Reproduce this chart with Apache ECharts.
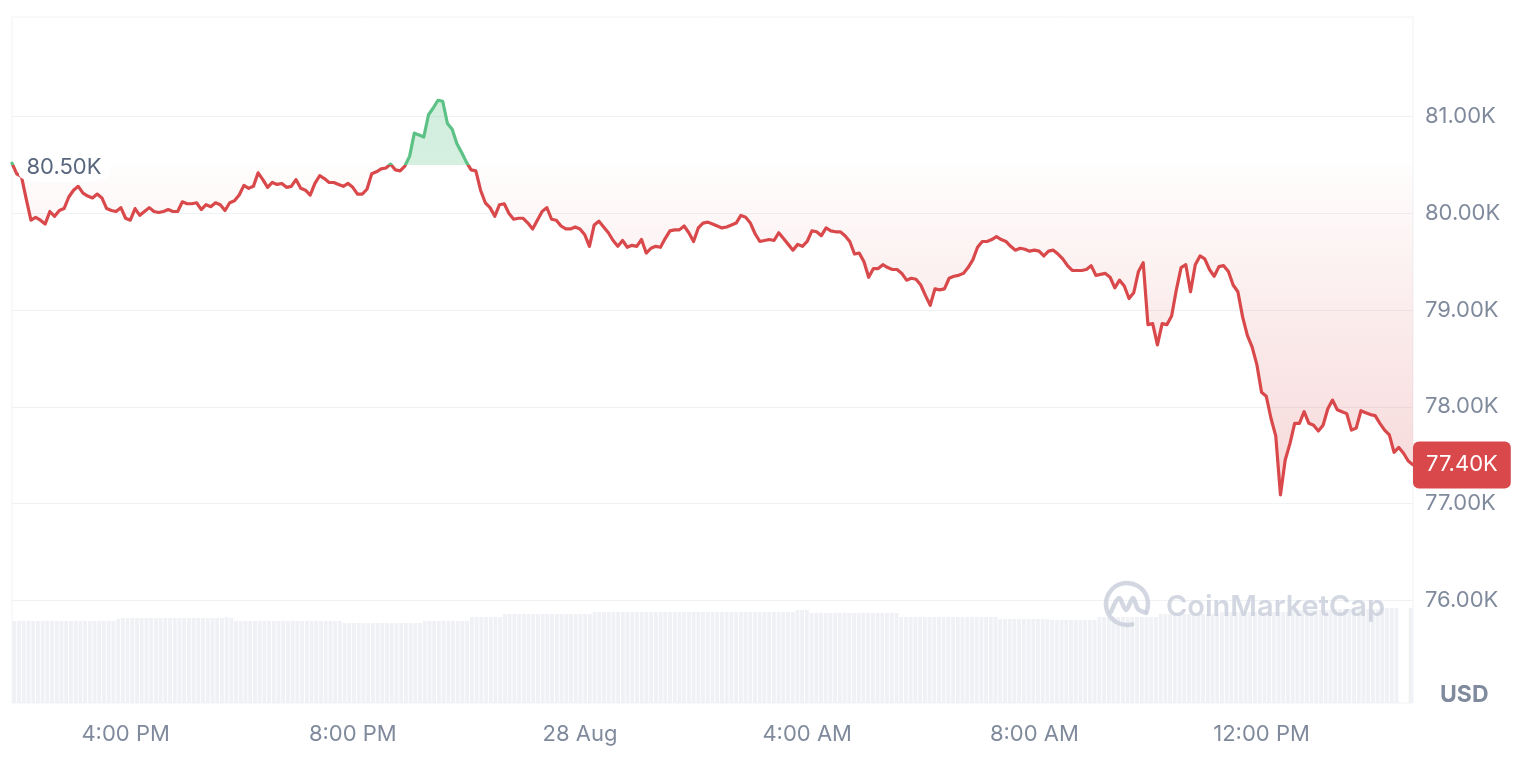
<!DOCTYPE html>
<html>
<head>
<meta charset="utf-8">
<script src="https://cdn.jsdelivr.net/npm/echarts@6/dist/echarts.min.js"></script>
<style>
html,body{margin:0;padding:0;background:#fff;}
#chart{width:1536px;height:782px;}
</style>
</head>
<body>
<div id="chart"></div>
<script>
// ---- data ----
const startHour = 14;        // 27 Aug, 2:00 PM
const stepMinutes = 5;
const baseline = 80.5;       // opening price (K USD)
const priceValues = [
80.52, 80.41, 80.38, 80.15, 79.93, 79.96, 79.93, 79.89, 80.02, 79.97,
80.03, 80.05, 80.17, 80.24, 80.28, 80.21, 80.18, 80.16, 80.20, 80.16,
80.05, 80.03, 80.02, 80.06, 79.95, 79.93, 80.05, 79.98, 80.02, 80.06,
80.02, 80.01, 80.02, 80.04, 80.02, 80.02, 80.12, 80.10, 80.10, 80.11,
80.04, 80.09, 80.07, 80.11, 80.09, 80.03, 80.11, 80.13, 80.19, 80.29,
80.26, 80.28, 80.42, 80.35, 80.27, 80.32, 80.30, 80.31, 80.27, 80.28,
80.35, 80.26, 80.24, 80.19, 80.31, 80.39, 80.36, 80.32, 80.32, 80.30,
80.28, 80.31, 80.27, 80.20, 80.20, 80.25, 80.41, 80.43, 80.46, 80.47,
80.51, 80.45, 80.44, 80.49, 80.59, 80.83, 80.81, 80.79, 81.02, 81.09,
81.17, 81.16, 80.93, 80.87, 80.72, 80.63, 80.53, 80.45, 80.44, 80.24,
80.11, 80.06, 79.97, 80.09, 80.10, 80.00, 79.94, 79.95, 79.95, 79.90,
79.84, 79.93, 80.02, 80.06, 79.94, 79.93, 79.87, 79.84, 79.84, 79.86,
79.84, 79.78, 79.66, 79.88, 79.92, 79.86, 79.80, 79.72, 79.66, 79.72,
79.65, 79.67, 79.66, 79.73, 79.59, 79.64, 79.66, 79.65, 79.74, 79.82,
79.83, 79.83, 79.87, 79.80, 79.71, 79.85, 79.90, 79.91, 79.89, 79.87,
79.85, 79.86, 79.88, 79.90, 79.98, 79.96, 79.90, 79.79, 79.71, 79.72,
79.73, 79.72, 79.80, 79.74, 79.68, 79.62, 79.68, 79.66, 79.71, 79.82,
79.81, 79.77, 79.85, 79.82, 79.81, 79.81, 79.77, 79.71, 79.58, 79.59,
79.50, 79.34, 79.43, 79.43, 79.47, 79.44, 79.42, 79.42, 79.38, 79.31,
79.33, 79.32, 79.26, 79.15, 79.05, 79.22, 79.21, 79.22, 79.33, 79.35,
79.36, 79.38, 79.44, 79.52, 79.65, 79.71, 79.71, 79.73, 79.76, 79.73,
79.71, 79.66, 79.62, 79.64, 79.63, 79.61, 79.62, 79.61, 79.56, 79.61,
79.62, 79.58, 79.53, 79.46, 79.41, 79.41, 79.41, 79.42, 79.46, 79.36,
79.37, 79.38, 79.34, 79.23, 79.31, 79.25, 79.12, 79.18, 79.40, 79.49,
78.85, 78.86, 78.64, 78.86, 78.85, 78.94, 79.21, 79.44, 79.47, 79.19,
79.47, 79.56, 79.53, 79.42, 79.35, 79.45, 79.46, 79.40, 79.26, 79.19,
78.93, 78.74, 78.62, 78.44, 78.15, 78.11, 77.88, 77.70, 77.09, 77.45,
77.62, 77.83, 77.83, 77.95, 77.83, 77.81, 77.75, 77.81, 77.98, 78.07,
77.97, 77.95, 77.93, 77.76, 77.78, 77.96, 77.94, 77.92, 77.91, 77.83,
77.76, 77.71, 77.53, 77.58, 77.52, 77.44, 77.40
];
// volume (relative units)
const volumeValues = [
82, 82, 82, 82, 82, 82, 82, 82, 82, 82,
82, 82, 82, 82, 82, 82, 82, 82, 82, 82,
82, 82, 84, 85, 85, 85, 85, 85, 85, 85,
85, 85, 85, 85, 85, 85, 85, 85, 85, 85,
85, 85, 85, 85, 85, 86, 85, 82, 82, 82,
82, 82, 82, 82, 82, 82, 82, 82, 82, 82,
82, 82, 82, 82, 82, 82, 82, 82, 82, 82,
80, 80, 80, 80, 80, 80, 80, 80, 80, 80,
80, 80, 80, 80, 80, 80, 80, 82, 82, 82,
82, 82, 82, 82, 82, 82, 82, 86, 86, 86,
86, 86, 86, 86, 89, 89, 89, 89, 89, 89,
89, 89, 89, 89, 89, 89, 89, 89, 89, 89,
89, 89, 89, 91, 91, 91, 91, 91, 91, 91,
91, 91, 91, 91, 91, 91, 91, 91, 91, 91,
91, 91, 91, 91, 91, 91, 91, 91, 91, 91,
91, 91, 91, 91, 91, 91, 91, 91, 91, 91,
91, 91, 91, 91, 91, 91, 93, 93, 93, 90,
90, 90, 90, 90, 90, 90, 90, 90, 90, 90,
90, 90, 90, 90, 90, 90, 90, 90, 86, 86,
86, 86, 86, 86, 86, 86, 86, 86, 86, 86,
86, 86, 86, 86, 86, 86, 86, 86, 86, 84,
84, 84, 84, 84, 84, 84, 84, 84, 84, 84,
83, 83, 83, 83, 83, 83, 83, 83, 83, 83,
86, 86, 86, 86, 86, 86, 86, 86, 86, 86,
86, 86, 86, 89, 89, 89, 89, 89, 89, 89,
89, 89, 89, 89, 89, 89, 91, 91, 91, 91,
91, 91, 91, 91, 91, 91, 91, 91, 91, 91,
91, 93, 93, 93, 93, 93, 93, 93, 93, 93,
94, 94, 94, 94, 94, 94, 94, 94, 94, 94,
95, 95, 95, 95, null, null, 95
];
const yTicks = [76, 77, 78, 79, 80, 81];

// ---- categories (5-minute timestamps) ----
const categories = priceValues.map((_, i) => {
  const total = startHour * 60 + i * stepMinutes;
  const day = 27 + Math.floor(total / 1440);
  const m = total % 1440;
  const hh = Math.floor(m / 60), mm = m % 60;
  return day + ' Aug ' + String(hh).padStart(2, '0') + ':' + String(mm).padStart(2, '0');
});
function parseCat(v) {
  const parts = v.split(' ');
  const t = parts[2].split(':');
  return { day: parts[0], hh: +t[0], mm: +t[1] };
}

const RED = '#d9484a';
const GREEN = '#5bc184';
const FONT = 'Inter, sans-serif';
const lastValue = priceValues[priceValues.length - 1];
const vMax = Math.max.apply(null, priceValues);
const vMin = Math.min.apply(null, priceValues);
const f = (vMax - baseline) / (vMax - vMin);

const chart = echarts.init(document.getElementById('chart'));
const option = {
  animation: false,
  backgroundColor: '#ffffff',
  grid: [
    { left: 12, right: 123, top: 20, bottom: 85, outerBoundsMode: 'none' },
    { left: 12, right: 123, top: 17, bottom: 79, show: true, borderColor: '#eff2f5', borderWidth: 1,
      backgroundColor: 'rgba(0,0,0,0)', outerBoundsMode: 'none' }
  ],
  xAxis: [
    {
      type: 'category', gridIndex: 0, data: categories, boundaryGap: false,
      axisLine: { show: false }, axisTick: { show: false }, splitLine: { show: false },
      axisLabel: {
        margin: 26, color: '#808a9d', fontSize: 22, fontFamily: FONT,
        interval: (idx, v) => { const p = parseCat(v); return p.mm === 0 && p.hh % 4 === 0; },
        formatter: (v) => {
          const p = parseCat(v);
          if (p.hh === 0) return p.day + ' Aug';
          const h12 = p.hh % 12 || 12;
          return h12 + ':00 ' + (p.hh < 12 ? 'AM' : 'PM');
        }
      }
    },
    { type: 'category', gridIndex: 1, data: categories, boundaryGap: true, show: false }
  ],
  yAxis: [
    {
      type: 'value', gridIndex: 0, position: 'right', min: 75, max: 82, interval: 1,
      axisLine: { show: false }, axisTick: { show: false },
      axisLabel: {
        margin: 12, color: '#808a9d', fontSize: 22, fontFamily: FONT,
        showMinLabel: false, showMaxLabel: false,
        formatter: (v) => (yTicks.indexOf(v) >= 0 ? v.toFixed(2) + 'K' : '')
      },
      splitLine: { show: true, showMinLine: false, showMaxLine: false, lineStyle: { color: '#eff2f5', width: 1 } }
    },
    { type: 'value', gridIndex: 1, min: 0, max: 686, show: false, splitLine: { show: false } }
  ],
  visualMap: {
    type: 'piecewise', show: false, seriesIndex: 2, dimension: 1,
    pieces: [
      { gt: baseline, lte: 1000, color: GREEN },
      { gt: 0, lte: baseline, color: RED }
    ],
    outOfRange: { color: RED }
  },
  series: [
    {
      type: 'bar', xAxisIndex: 1, yAxisIndex: 1, data: volumeValues,
      barCategoryGap: '18%', itemStyle: { color: '#eff1f5' }, silent: true, z: 1
    },
    {
      type: 'line', xAxisIndex: 0, yAxisIndex: 0, data: priceValues,
      showSymbol: false, symbol: 'none', silent: true, z: 2,
      lineStyle: { width: 0, opacity: 0 },
      areaStyle: {
        origin: baseline,
        color: new echarts.graphic.LinearGradient(0, 0, 0, 1, [
          { offset: 0, color: 'rgba(91,193,132,0.40)' },
          { offset: f, color: 'rgba(91,193,132,0.36)' },
          { offset: f, color: 'rgba(217,72,74,0.02)' },
          { offset: 1, color: 'rgba(217,72,74,0.30)' }
        ])
      },
      markLine: {
        silent: true, symbol: ['none', 'none'],
        lineStyle: { color: 'rgba(0,0,0,0)', width: 0 },
        label: {
          show: true, position: 'end', distance: 0,
          formatter: lastValue.toFixed(2) + 'K',
          color: '#ffffff', backgroundColor: RED, fontSize: 22, fontFamily: FONT,
          padding: [13, 13, 12, 13], borderRadius: 6
        },
        data: [{ yAxis: lastValue }]
      }
    },
    {
      type: 'line', xAxisIndex: 0, yAxisIndex: 0, data: priceValues,
      showSymbol: false, symbol: 'none', silent: true, z: 3,
      lineStyle: { width: 3.2, join: 'round', cap: 'round' },
      markPoint: {
        silent: true,
        symbol: 'roundRect', symbolSize: [90, 30], symbolOffset: [52, 2],
        itemStyle: { color: '#ffffff' },
        label: { show: true, color: '#58667e', fontSize: 22, fontFamily: FONT, formatter: baseline.toFixed(2) + 'K' },
        data: [{ coord: [0, baseline] }]
      }
    }
  ],
  graphic: [
    { type: 'arc', z: 50, silent: true,
      shape: { cx: 1127, cy: 604, r: 21, startAngle: Math.PI * 0.42, endAngle: Math.PI * 2.12, clockwise: true },
      style: { stroke: 'rgba(200,205,217,0.8)', lineWidth: 4.5, fill: null, lineCap: 'round' } },
    { type: 'polyline', z: 50, silent: true,
      shape: { points: [[1111, 612], [1119, 598], [1126, 610], [1133, 598], [1138, 609], [1146, 613]], smooth: 0.3 },
      style: { stroke: 'rgba(200,205,217,0.8)', lineWidth: 4.5, fill: null, lineJoin: 'round', lineCap: 'round' } },
    { type: 'text', z: 50, silent: true, x: 1166, y: 607,
      style: { text: 'CoinMarketCap', font: '600 29px Inter, sans-serif', fill: 'rgba(200,205,217,0.8)',
               textVerticalAlign: 'middle', verticalAlign: 'middle' } },
    { type: 'text', z: 50, silent: true, x: 1440, y: 695,
      style: { text: 'USD', font: 'bold 23px Inter, sans-serif', fill: '#808a9d',
               textVerticalAlign: 'middle', verticalAlign: 'middle' } }
  ]
};
chart.setOption(option);
</script>
</body>
</html>
